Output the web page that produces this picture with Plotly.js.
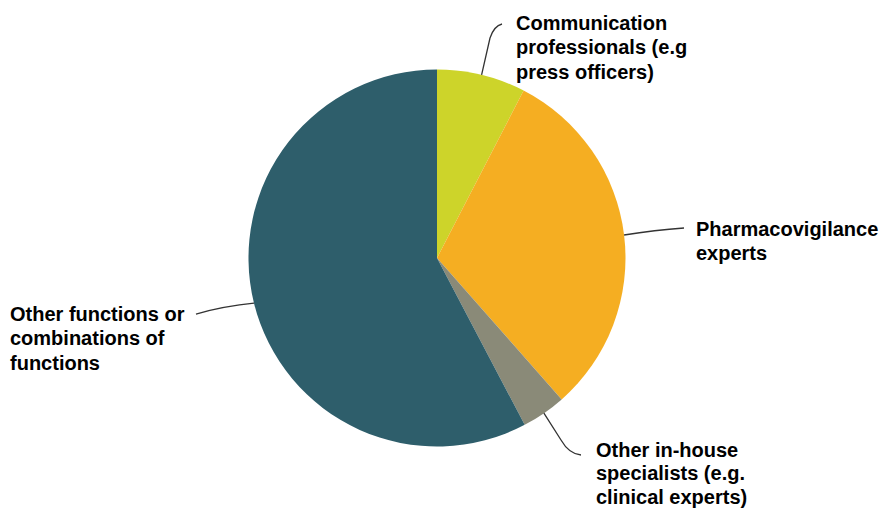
<!DOCTYPE html>
<html>
<head>
<meta charset="utf-8">
<script src="https://cdn.plot.ly/plotly-3.0.1.min.js"></script>
<style>
  html, body { margin: 0; padding: 0; background: #ffffff; }
  #chart { width: 881px; height: 510px; }
</style>
</head>
<body>
<div id="chart"></div>
<script>
// ---- data ----
var categories = [
  "Communication professionals (e.g press officers)",
  "Pharmacovigilance experts",
  "Other in-house specialists (e.g. clinical experts)",
  "Other functions or combinations of functions"
];
var shares = [7.6, 30.9, 3.8, 57.7];
var labelLines = [
  ["Communication", "professionals (e.g", "press officers)"],
  ["Pharmacovigilance", "experts"],
  ["Other in-house", "specialists (e.g.", "clinical experts)"],
  ["Other functions or", "combinations of", "functions"]
];
var colors = ["#CDD42A", "#F5AE22", "#8A8A78", "#2E5E6B"];

// ---- layout geometry (pixels) ----
var W = 881, H = 510;
var cx = 437, cy = 258, R = 188.5;
// label placement: left x, first-line centre y, line step
var labelPos = [
  {x: 516, y: 23, step: 24.3},
  {x: 696, y: 229, step: 24.3},
  {x: 596, y: 450, step: 23.4},
  {x: 10,  y: 314, step: 24.3}
];
// leader paths: bend points after the pie-edge start (pixels)
var leaderBends = [
  "L 490 38 Q 494 26 502 24",
  "Q 655 230 684 228",
  "L 561 440 Q 569 454 581 455",
  "Q 225 306 196 314"
];

function px(x) { return x / W; }
function py(y) { return 1 - y / H; }

var total = shares.reduce(function (a, b) { return a + b; }, 0);
var annotations = [];
var shapes = [];
var cum = 0;
shares.forEach(function (v, i) {
  var mid = (cum + v / 2) / total * 2 * Math.PI;
  cum += v;
  var sx = cx + R * Math.sin(mid);
  var sy = cy - R * Math.cos(mid);
  var pathPx = "M " + sx.toFixed(1) + " " + sy.toFixed(1) + " " + leaderBends[i];
  var toks = pathPx.split(" ");
  var out = [];
  var isX = true;
  for (var k = 0; k < toks.length; k++) {
    var t = toks[k];
    if (/^[A-Za-z]$/.test(t)) { out.push(t); isX = true; }
    else {
      var n = parseFloat(t);
      out.push(isX ? px(n).toFixed(5) : py(n).toFixed(5));
      isX = !isX;
    }
  }
  shapes.push({
    type: "path", xref: "paper", yref: "paper",
    path: out.join(" "),
    line: {color: "#333333", width: 1.3}
  });
  labelLines[i].forEach(function (ln, j) {
    annotations.push({
      xref: "paper", yref: "paper",
      x: px(labelPos[i].x), y: py(labelPos[i].y + j * labelPos[i].step),
      xanchor: "left", yanchor: "middle",
      borderpad: 0, borderwidth: 0,
      text: ln, showarrow: false,
      font: {family: "Liberation Sans, Arial, sans-serif", size: 20, color: "#000000", weight: "bold"}
    });
  });
});

var trace = {
  type: "pie",
  labels: categories,
  values: shares,
  sort: false,
  direction: "clockwise",
  rotation: 0,
  textinfo: "none",
  hoverinfo: "label+percent",
  marker: {colors: colors, line: {width: 0}},
  domain: {x: [px(cx - R), px(cx + R)], y: [py(cy + R), py(cy - R)]},
  showlegend: false
};

var layout = {
  width: W, height: H,
  margin: {l: 0, r: 0, t: 0, b: 0},
  paper_bgcolor: "#ffffff",
  plot_bgcolor: "#ffffff",
  showlegend: false,
  annotations: annotations,
  shapes: shapes
};

Plotly.newPlot("chart", [trace], layout, {displayModeBar: false, staticPlot: true});
</script>
</body>
</html>
